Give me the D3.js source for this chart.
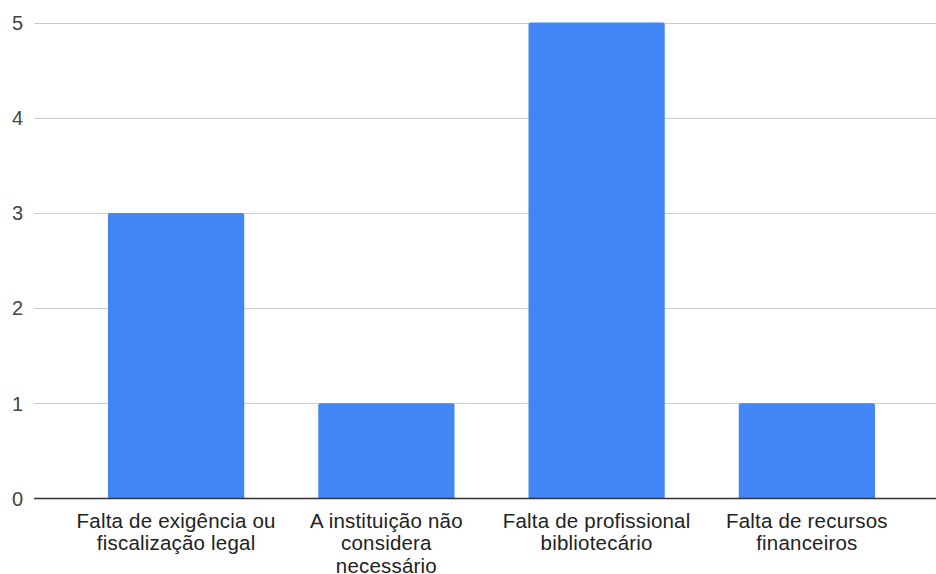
<!DOCTYPE html>
<html>
<head>
<meta charset="utf-8">
<script src="https://cdn.jsdelivr.net/npm/d3@7"></script>
<style>
  body { margin: 0; background: #fff; }
  svg { display: block; }
</style>
</head>
<body>
<div id="chart"></div>
<script>
// categories (\n marks where the original label wraps)
var categories = [
  "Falta de exigência ou\nfiscalização legal",
  "A instituição não\nconsidera\nnecessário",
  "Falta de profissional\nbibliotecário",
  "Falta de recursos\nfinanceiros"
];
var values = [3, 1, 5, 1];
var yTicks = [0, 1, 2, 3, 4, 5];

var W = 936, H = 574;
var plotLeft = 34, plotRight = 949, plotTop = 22.5, plotBottom = 498.5;

var svg = d3.select("#chart").append("svg")
  .attr("width", W)
  .attr("height", H)
  .style("font-family", "Arial, 'Liberation Sans', sans-serif");

var x = d3.scaleBand().domain(d3.range(categories.length))
  .range([plotLeft, plotRight]).padding(0.352);
var y = d3.scaleLinear().domain([0, 5]).range([plotBottom, plotTop]);

// gridlines
svg.append("g").selectAll("line")
  .data(yTicks.filter(function(d){ return d > 0; }))
  .enter().append("line")
  .attr("x1", plotLeft).attr("x2", W)
  .attr("y1", function(d){ return Math.round(y(d)) + 0.5; })
  .attr("y2", function(d){ return Math.round(y(d)) + 0.5; })
  .attr("stroke", "#cccccc").attr("stroke-width", 1);

// y tick labels
svg.append("g").selectAll("text")
  .data(yTicks)
  .enter().append("text")
  .attr("x", 23)
  .attr("y", function(d){ return y(d); })
  .attr("dy", "0.36em")
  .attr("text-anchor", "end")
  .style("font-size", "20px")
  .attr("fill", "#444")
  .text(function(d){ return d; });

// bars with slightly rounded tops
var r = 2;
svg.append("g").selectAll("path")
  .data(values)
  .enter().append("path")
  .attr("fill", "#4285f4")
  .attr("d", function(d, i){
    var x0 = x(i), x1 = x(i) + x.bandwidth(), y0 = y(0), y1 = y(d);
    return "M" + x0 + "," + y0 + "V" + (y1 + r) +
      "Q" + x0 + "," + y1 + " " + (x0 + r) + "," + y1 +
      "H" + (x1 - r) + "Q" + x1 + "," + y1 + " " + x1 + "," + (y1 + r) +
      "V" + y0 + "Z";
  });

// baseline
svg.append("line")
  .attr("x1", plotLeft).attr("x2", W)
  .attr("y1", plotBottom).attr("y2", plotBottom)
  .attr("stroke", "#333").attr("stroke-width", 1.3);

// category labels
var lab = svg.append("g").selectAll("text")
  .data(categories)
  .enter().append("text")
  .attr("text-anchor", "middle")
  .attr("fill", "#222")
  .style("font-size", "20.5px")
  .style("letter-spacing", "0.2px")
  .attr("transform", function(d, i){
    return "translate(" + (x(i) + x.bandwidth() / 2) + "," + (plotBottom + 29) + ")";
  });
lab.selectAll("tspan")
  .data(function(d){ return d.split("\n"); })
  .enter().append("tspan")
  .attr("x", 0)
  .attr("y", function(d, j){ return j * 22.5; })
  .text(function(d){ return d; });
</script>
</body>
</html>
